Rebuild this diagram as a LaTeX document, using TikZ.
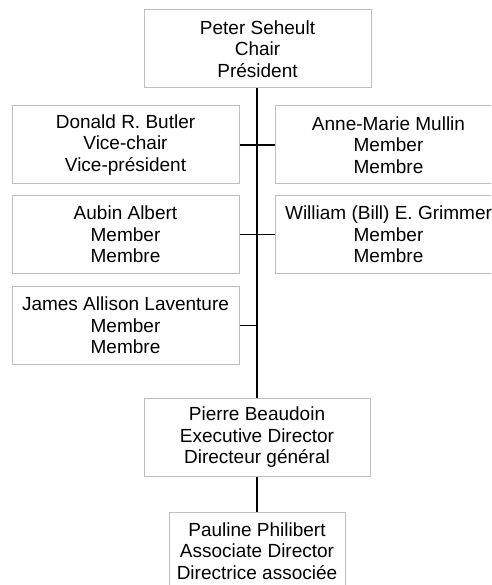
\documentclass[tikz,border=0pt]{standalone}
\usepackage{fontspec}
\setmainfont{Liberation Sans}
\begin{document}
\begin{tikzpicture}[x=1pt,y=-1pt,
  box/.style={draw=black!25, line width=1pt, fill=white, align=center, inner sep=0pt,
    font=\fontsize{19}{21.5}\selectfont, minimum height=78pt},
  wide/.style={box, minimum width=227pt},
  link/.style={draw=black, line width=1.6pt},
  trunk/.style={draw=black, line width=2.4pt}]
\useasboundingbox (0,0) rectangle (491,585);
\clip (0,0) rectangle (491,585);
\fill[white] (0,0) rectangle (491,585);
\node[wide] (peter) at (257.5,49) {Peter Seheult\\Chair\\Président};
\node[wide] (butler) at (125.5,145) {Donald R. Butler\\Vice-chair\\Vice-président};
\node[wide] (mullin) at (388.5,145) {Anne-Marie Mullin\\Member\\Membre};
\node[wide] (albert) at (125.5,234.5) {Aubin Albert\\Member\\Membre};
\node[wide] (grimmer) at (388.5,234.5) {William (Bill) E. Grimmer\\Member\\Membre};
\node[wide] (laventure) at (125.5,325.5) {James Allison Laventure\\Member\\Membre};
\node[box, minimum width=226pt] (beaudoin) at (257,437.5) {Pierre Beaudoin\\Executive Director\\Directeur général};
\node[box, minimum width=176pt] (philibert) at (257,551) {Pauline Philibert\\Associate Director\\Directrice associée};
\coordinate (t) at (peter.south -| beaudoin.north);
\draw[link] (butler.east) -- (mullin.west);
\draw[link] (albert.east) -- (grimmer.west);
\draw[link] (laventure.east) -- (laventure.east -| beaudoin.north);
\draw[trunk] (t) -- (beaudoin.north);
\draw[link] (beaudoin.south) -- (philibert.north);
\end{tikzpicture}
\end{document}
